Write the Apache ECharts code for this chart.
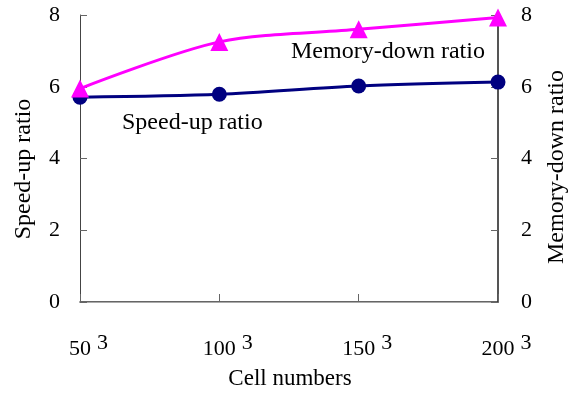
<!DOCTYPE html>
<html><head><meta charset="utf-8">
<script src="https://cdn.jsdelivr.net/npm/echarts@6/dist/echarts.min.js"></script>
<style>html,body{margin:0;padding:0;background:#fff}#c{width:576px;height:403px}</style>
</head><body><div id="c"></div>
<script>
const categories = ['50', '100', '150', '200'];
const speedUp = [5.71, 5.79, 6.02, 6.13];
const memoryDown = [5.95, 7.25, 7.6, 7.93];
const yTicks = [0, 2, 4, 6, 8];

const F = '"Liberation Serif", "Times New Roman", serif';
const chart = echarts.init(document.getElementById('c'));
const tickLabel = { fontFamily: F, fontSize: 22, color: '#000' };
chart.setOption({
  animation: false,
  backgroundColor: '#fff',
  grid: { left: 80, right: 78, top: 15, bottom: 101 },
  xAxis: [{
    type: 'category', data: categories, boundaryGap: false,
    axisLine: { lineStyle: { color: '#333', width: 1.5 } },
    axisTick: { inside: true, length: 8, lineStyle: { color: '#666' } },
    axisLabel: {
      margin: 30,
      formatter: v => '{h|3}{a|' + v + '}{b|3}',
      rich: {
        h: { fontFamily: F, fontSize: 22, color: 'rgba(0,0,0,0)', padding: [0, 6, 0, 0], verticalAlign: 'bottom', lineHeight: 28 },
        a: { fontFamily: F, fontSize: 22, color: '#000', verticalAlign: 'bottom', lineHeight: 28 },
        b: { fontFamily: F, fontSize: 22, color: '#000', verticalAlign: 'top', padding: [0, 0, 0, 6], lineHeight: 22 }
      }
    }
  }, {
    type: 'category', data: categories, boundaryGap: false, position: 'top',
    axisLine: { lineStyle: { color: '#aaa', width: 1 } },
    axisTick: { show: false }, axisLabel: { show: false }
  }],
  yAxis: [{
    type: 'value', min: 0, max: 8, interval: 2,
    axisLine: { show: true, lineStyle: { color: '#444', width: 1 } },
    axisTick: { show: true, inside: true, length: 7, lineStyle: { color: '#666' } },
    splitLine: { show: false },
    axisLabel: Object.assign({ margin: 20, formatter: v => yTicks.includes(v) ? String(v) : '' }, tickLabel)
  }, {
    type: 'value', min: 0, max: 8, interval: 2, position: 'right',
    axisLine: { show: true, lineStyle: { color: '#555', width: 2 } },
    axisTick: { show: true, inside: true, length: 7, lineStyle: { color: '#666' } },
    splitLine: { show: false },
    axisLabel: Object.assign({ margin: 23, formatter: v => yTicks.includes(v) ? String(v) : '' }, tickLabel)
  }],
  graphic: [
    { type: 'text', x: 24, y: 169, rotation: Math.PI / 2,
      style: { text: 'Speed-up ratio', font: '24px ' + F, fill: '#000', align: 'center', verticalAlign: 'middle' } },
    { type: 'text', x: 557, y: 167, rotation: Math.PI / 2,
      style: { text: 'Memory-down ratio', font: '24px ' + F, fill: '#000', align: 'center', verticalAlign: 'middle' } },
    { type: 'text', x: 290, y: 379,
      style: { text: 'Cell numbers', font: '23px ' + F, fill: '#000', align: 'center', verticalAlign: 'middle' } },
    { type: 'text', x: 291, y: 52,
      style: { text: 'Memory-down ratio', font: '24px ' + F, fill: '#000', verticalAlign: 'middle' } },
    { type: 'text', x: 122, y: 123,
      style: { text: 'Speed-up ratio', font: '24px ' + F, fill: '#000', verticalAlign: 'middle' } }
  ],
  series: [{
    name: 'Speed-up ratio', type: 'line', data: speedUp, yAxisIndex: 0, smooth: 0.3,
    symbol: 'circle', symbolSize: 15,
    lineStyle: { color: '#000080', width: 3 }, itemStyle: { color: '#000080' }
  }, {
    name: 'Memory-down ratio', type: 'line', data: memoryDown, yAxisIndex: 1, smooth: 0.3,
    symbol: 'triangle', symbolSize: 18,
    lineStyle: { color: '#FF00FF', width: 3 }, itemStyle: { color: '#FF00FF' }
  }]
});
</script></body></html>
